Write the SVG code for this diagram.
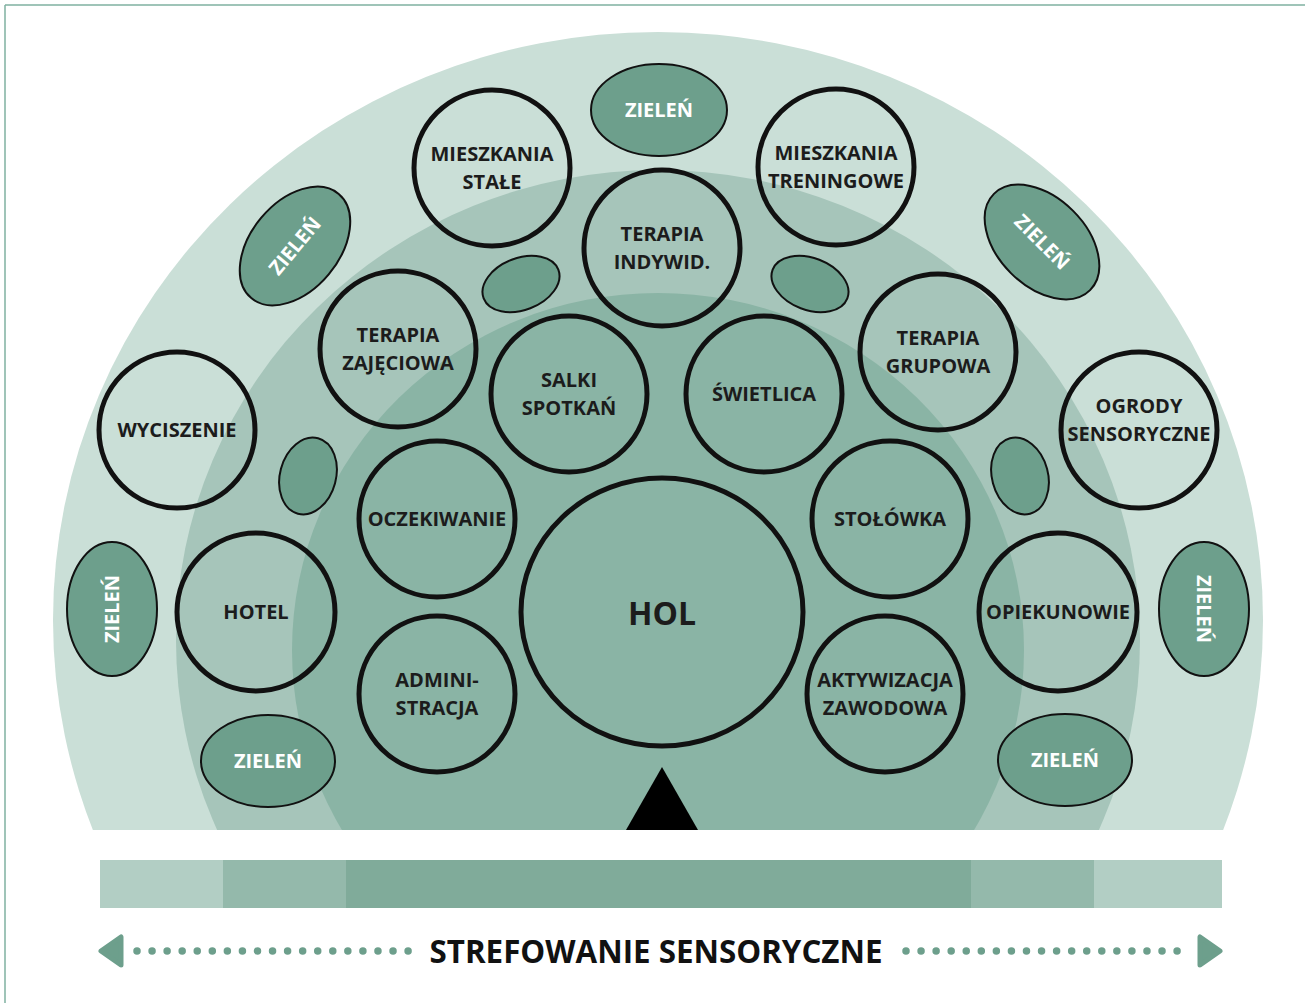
<svg xmlns="http://www.w3.org/2000/svg" width="1305" height="1003" viewBox="0 0 1305 1003">
<style>
.ring{fill:none;stroke:#111;stroke-width:5}
.green{fill:#6d9f8c;stroke:#111;stroke-width:2}
.lbl{font-family:"Open Sans","Noto Sans","Liberation Sans",sans-serif;font-weight:700;font-size:20px;fill:#1c1c1c;text-anchor:middle}
.glbl{font-family:"Open Sans","Noto Sans","Liberation Sans",sans-serif;font-weight:700;font-size:20px;fill:#ffffff;text-anchor:middle}
</style>
<defs>
<clipPath id="cut"><rect x="0" y="0" width="1305" height="830"/></clipPath>
</defs>
<rect x="0" y="0" width="1305" height="1003" fill="#ffffff"/>
<g id="frame" stroke="#7fb0a0" stroke-width="1.5" fill="none">
<line x1="5" y1="5" x2="1305" y2="5"/>
<line x1="5" y1="5" x2="5" y2="1003"/>
</g>
<g id="zones" clip-path="url(#cut)">
<ellipse cx="658" cy="620" rx="605" ry="588" fill="#cadfd7"/>
<ellipse cx="658" cy="640" rx="482" ry="470" fill="#a6c5ba"/>
<ellipse cx="658" cy="650" rx="366" ry="357" fill="#8ab4a5"/>
</g>
<g id="connectors"></g>
<g id="entrance"><polygon points="662,767 626,830 698,830" fill="#000"/></g>

<g id="zielen-top"><ellipse class="green" cx="659" cy="110" rx="68" ry="46"/><text class="glbl" x="659" y="117">ZIELEŃ</text></g>
<g id="zielen-tl"><ellipse class="green" cx="295" cy="246" rx="68" ry="44" transform="rotate(-50 295 246)"/><text class="glbl" x="295" y="253" transform="rotate(-50 295 246)">ZIELEŃ</text></g>
<g id="zielen-tr"><ellipse class="green" cx="1042" cy="242" rx="68" ry="44" transform="rotate(45 1042 242)"/><text class="glbl" x="1042" y="249" transform="rotate(45 1042 242)">ZIELEŃ</text></g>
<g id="zielen-l"><ellipse class="green" cx="112" cy="609" rx="45" ry="67"/><text class="glbl" x="112" y="616" transform="rotate(-90 112 609)">ZIELEŃ</text></g>
<g id="zielen-r"><ellipse class="green" cx="1204" cy="609" rx="45" ry="67"/><text class="glbl" x="1204" y="616" transform="rotate(90 1204 609)">ZIELEŃ</text></g>
<g id="zielen-bl"><ellipse class="green" cx="268" cy="761" rx="67" ry="46"/><text class="glbl" x="268" y="768">ZIELEŃ</text></g>
<g id="zielen-br"><ellipse class="green" cx="1065" cy="760" rx="67" ry="46"/><text class="glbl" x="1065" y="767">ZIELEŃ</text></g>
<g id="green-s1"><ellipse class="green" cx="521" cy="284" rx="40" ry="26" transform="rotate(-21 521 284)"/></g>
<g id="green-s2"><ellipse class="green" cx="810" cy="284" rx="40" ry="26" transform="rotate(21 810 284)"/></g>
<g id="green-s3"><ellipse class="green" cx="308" cy="476" rx="28" ry="39" transform="rotate(15 308 476)"/></g>
<g id="green-s4"><ellipse class="green" cx="1020" cy="476" rx="28" ry="39" transform="rotate(-15 1020 476)"/></g>

<g id="mieszkania-stale"><circle class="ring" cx="492" cy="168" r="78"/><text class="lbl" x="492" y="161">MIESZKANIA</text><text class="lbl" x="492" y="189">STAŁE</text></g>
<g id="mieszkania-treningowe"><circle class="ring" cx="836" cy="167" r="78"/><text class="lbl" x="836" y="160">MIESZKANIA</text><text class="lbl" x="836" y="188">TRENINGOWE</text></g>
<g id="terapia-indywid"><circle class="ring" cx="662" cy="248" r="78"/><text class="lbl" x="662" y="241">TERAPIA</text><text class="lbl" x="662" y="269">INDYWID.</text></g>
<g id="terapia-zajeciowa"><circle class="ring" cx="398" cy="349" r="78"/><text class="lbl" x="398" y="342">TERAPIA</text><text class="lbl" x="398" y="370">ZAJĘCIOWA</text></g>
<g id="terapia-grupowa"><circle class="ring" cx="938" cy="352" r="78"/><text class="lbl" x="938" y="345">TERAPIA</text><text class="lbl" x="938" y="373">GRUPOWA</text></g>
<g id="salki-spotkan"><circle class="ring" cx="569" cy="394" r="78"/><text class="lbl" x="569" y="387">SALKI</text><text class="lbl" x="569" y="415">SPOTKAŃ</text></g>
<g id="swietlica"><circle class="ring" cx="764" cy="394" r="78"/><text class="lbl" x="764" y="401">ŚWIETLICA</text></g>
<g id="wyciszenie"><circle class="ring" cx="177" cy="430" r="78"/><text class="lbl" x="177" y="437">WYCISZENIE</text></g>
<g id="ogrody-sensoryczne"><circle class="ring" cx="1139" cy="430" r="78"/><text class="lbl" x="1139" y="413">OGRODY</text><text class="lbl" x="1139" y="441">SENSORYCZNE</text></g>
<g id="oczekiwanie"><circle class="ring" cx="437" cy="519" r="78"/><text class="lbl" x="437" y="526">OCZEKIWANIE</text></g>
<g id="stolowka"><circle class="ring" cx="890" cy="519" r="78"/><text class="lbl" x="890" y="526">STOŁÓWKA</text></g>
<g id="hol"><ellipse class="ring" cx="662" cy="612" rx="141" ry="134"/><text class="lbl" x="662" y="625" style="font-size:32px">HOL</text></g>
<g id="hotel"><circle class="ring" cx="256" cy="612" r="79"/><text class="lbl" x="256" y="619">HOTEL</text></g>
<g id="opiekunowie"><circle class="ring" cx="1058" cy="612" r="79"/><text class="lbl" x="1058" y="619">OPIEKUNOWIE</text></g>
<g id="administracja"><circle class="ring" cx="437" cy="694" r="78"/><text class="lbl" x="437" y="687">ADMINI-</text><text class="lbl" x="437" y="715">STRACJA</text></g>
<g id="aktywizacja-zawodowa"><circle class="ring" cx="885" cy="694" r="78"/><text class="lbl" x="885" y="687">AKTYWIZACJA</text><text class="lbl" x="885" y="715">ZAWODOWA</text></g>

<g id="scale-bar">
<rect x="100" y="860" width="123" height="48" fill="#b2cec4"/>
<rect x="223" y="860" width="123" height="48" fill="#94b9ab"/>
<rect x="346" y="860" width="625" height="48" fill="#80ab9a"/>
<rect x="971" y="860" width="123" height="48" fill="#94b9ab"/>
<rect x="1094" y="860" width="128" height="48" fill="#b2cec4"/>
</g>
<g id="axis">
<path d="M101,951 L121,937 L121,965 Z" fill="#6d9f8c" stroke="#6d9f8c" stroke-width="5" stroke-linejoin="round"/>
<path d="M1220,951 L1200,937 L1200,965 Z" fill="#6d9f8c" stroke="#6d9f8c" stroke-width="5" stroke-linejoin="round"/>
<line x1="137" y1="951" x2="410" y2="951" stroke="#6d9f8c" stroke-width="7.5" stroke-linecap="round" stroke-dasharray="0 15.06"/>
<line x1="906" y1="951" x2="1188" y2="951" stroke="#6d9f8c" stroke-width="7.5" stroke-linecap="round" stroke-dasharray="0 15.06"/>
<text x="656" y="963" textLength="453" lengthAdjust="spacingAndGlyphs" style="font-family:'Open Sans','Noto Sans','Liberation Sans',sans-serif;font-weight:700;font-size:32px;fill:#111;text-anchor:middle">STREFOWANIE SENSORYCZNE</text>
</g>
</svg>
